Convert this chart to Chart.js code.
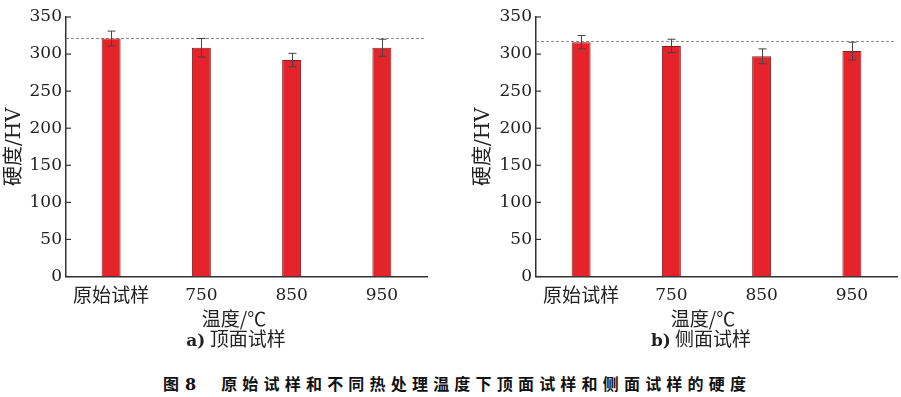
<!DOCTYPE html>
<html>
<head>
<meta charset="utf-8">
<script src="https://cdn.jsdelivr.net/npm/chart.js@4/dist/chart.umd.min.js"></script>
<style>
  html, body { margin: 0; padding: 0; background: #fff; }
  body { width: 901px; height: 397px; position: relative; overflow: hidden; }
  canvas { position: absolute; top: 0; }
  #cTop { left: 0; }
  #cSide { left: 450px; }
  .xt { position: absolute; top: 304px; font-family: "Noto Sans CJK SC", sans-serif; font-size: 19px; color: #222; transform: translateX(-50%); white-space: nowrap; }
  .sub { position: absolute; top: 324px; font-family: "Noto Sans CJK SC", sans-serif; font-size: 19px; color: #222; transform: translateX(-50%); white-space: nowrap; }
  .sub b { font-family: "DejaVu Serif", serif; font-weight: bold; font-size: 17px; }
  .fig { position: absolute; top: 371px; left: 163px; font-family: "Noto Sans CJK SC", sans-serif; font-weight: bold; font-size: 16px; color: #111; white-space: nowrap; }
  .fig .n { font-family: "DejaVu Serif", serif; margin-left: 6px; margin-right: 25px; }
  .fig .t { letter-spacing: 5.2px; }
</style>
</head>
<body>
<canvas id="cTop" width="450" height="332"></canvas>
<canvas id="cSide" width="451" height="332"></canvas>
<div class="xt" style="left:234px">温度/℃</div>
<div class="xt" style="left:703px">温度/℃</div>
<div class="sub" style="left:236px"><b>a)</b> 顶面试样</div>
<div class="sub" style="left:701px"><b>b)</b> 侧面试样</div>
<div class="fig">图<span class="n">8</span><span class="t">原始试样和不同热处理温度下顶面试样和侧面试样的硬度</span></div>
<script>
// categories and readings (HV)
const categories = ["原始试样", "750", "850", "950"];
const yTicks = [0, 50, 100, 150, 200, 250, 300, 350];

const topValues = [321, 308.5, 292, 308.5];
const topErrors = [10, 12.5, 9, 11.5];
const topRef = 321;

const sideValues = [316, 311, 297, 304];
const sideErrors = [9, 9, 10, 12];
const sideRef = 317;

const serif = "'DejaVu Serif', 'Noto Sans CJK SC', serif";
const ink = "#222";

// dashed reference line, inward y ticks and error bars, all from the scales
const overlay = {
  id: "overlay",
  beforeDatasetsDraw(chart, args, opts) {
    const { ctx, chartArea, scales: { y } } = chart;
    const py = y.getPixelForValue(opts.ref);
    ctx.save();
    ctx.strokeStyle = "#8a8a8a";
    ctx.lineWidth = 1;
    ctx.setLineDash([3, 2]);
    ctx.beginPath();
    ctx.moveTo(chartArea.left, py);
    ctx.lineTo(chartArea.right - 3, py);
    ctx.stroke();
    ctx.restore();
  },
  afterDatasetsDraw(chart, args, opts) {
    const { ctx, scales: { x, y } } = chart;
    const vals = chart.data.datasets[0].data;
    ctx.save();
    ctx.strokeStyle = "#444";
    ctx.lineWidth = 1;
    vals.forEach((v, i) => {
      const px = Math.round(x.getPixelForValue(i)) + 0.5;
      const hi = y.getPixelForValue(v + opts.errors[i]);
      const lo = y.getPixelForValue(v - opts.errors[i]);
      ctx.beginPath();
      ctx.moveTo(px, hi); ctx.lineTo(px, lo);
      ctx.moveTo(px - 4, hi); ctx.lineTo(px + 4, hi);
      ctx.moveTo(px - 4, lo); ctx.lineTo(px + 4, lo);
      ctx.stroke();
    });
    ctx.strokeStyle = "#333";
    ctx.lineWidth = 1.2;
    y.ticks.forEach(t => {
      const py = y.getPixelForValue(t.value);
      ctx.beginPath();
      ctx.moveTo(y.right, py); ctx.lineTo(y.right + 5, py);
      ctx.stroke();
    });
    ctx.restore();
  }
};

function makeChart(id, values, errors, ref, padLeft, padRight, yWidth) {
  return new Chart(document.getElementById(id), {
    type: "bar",
    data: {
      labels: categories,
      datasets: [{
        data: values,
        backgroundColor: "#e4232b",
        borderColor: "#8c1c1c",
        borderWidth: 1,
        barPercentage: 0.21,
        categoryPercentage: 1
      }]
    },
    options: {
      responsive: false,
      animation: false,
      layout: { padding: { left: padLeft, right: padRight, top: 17, bottom: 0 } },
      plugins: {
        legend: { display: false },
        tooltip: { enabled: false },
        overlay: { errors: errors, ref: ref }
      },
      scales: {
        x: {
          grid: { display: false, drawTicks: false },
          border: { color: "#333", width: 1.5 },
          ticks: {
            color: ink, padding: 9,
            font: c => ({ family: serif, size: c.index === 0 ? 19 : 17 })
          },
          afterFit: s => { s.height = 55.5; }
        },
        y: {
          min: 0, max: 350,
          afterBuildTicks: s => { s.ticks = yTicks.map(v => ({ value: v })); },
          grid: { display: false, drawTicks: false },
          border: { color: "#333", width: 1.5 },
          ticks: { color: ink, padding: 4, font: { family: serif, size: 17 } },
          title: { display: true, text: "硬度/HV", color: ink, padding: { top: 3, bottom: 0 }, font: { family: serif, size: 20 } },
          afterFit: s => { s.width = yWidth; }
        }
      }
    },
    plugins: [overlay]
  });
}

makeChart("cTop", topValues, topErrors, topRef, 0, 23, 66);
makeChart("cSide", sideValues, sideErrors, sideRef, 19, 4, 67);
</script>
</body>
</html>
